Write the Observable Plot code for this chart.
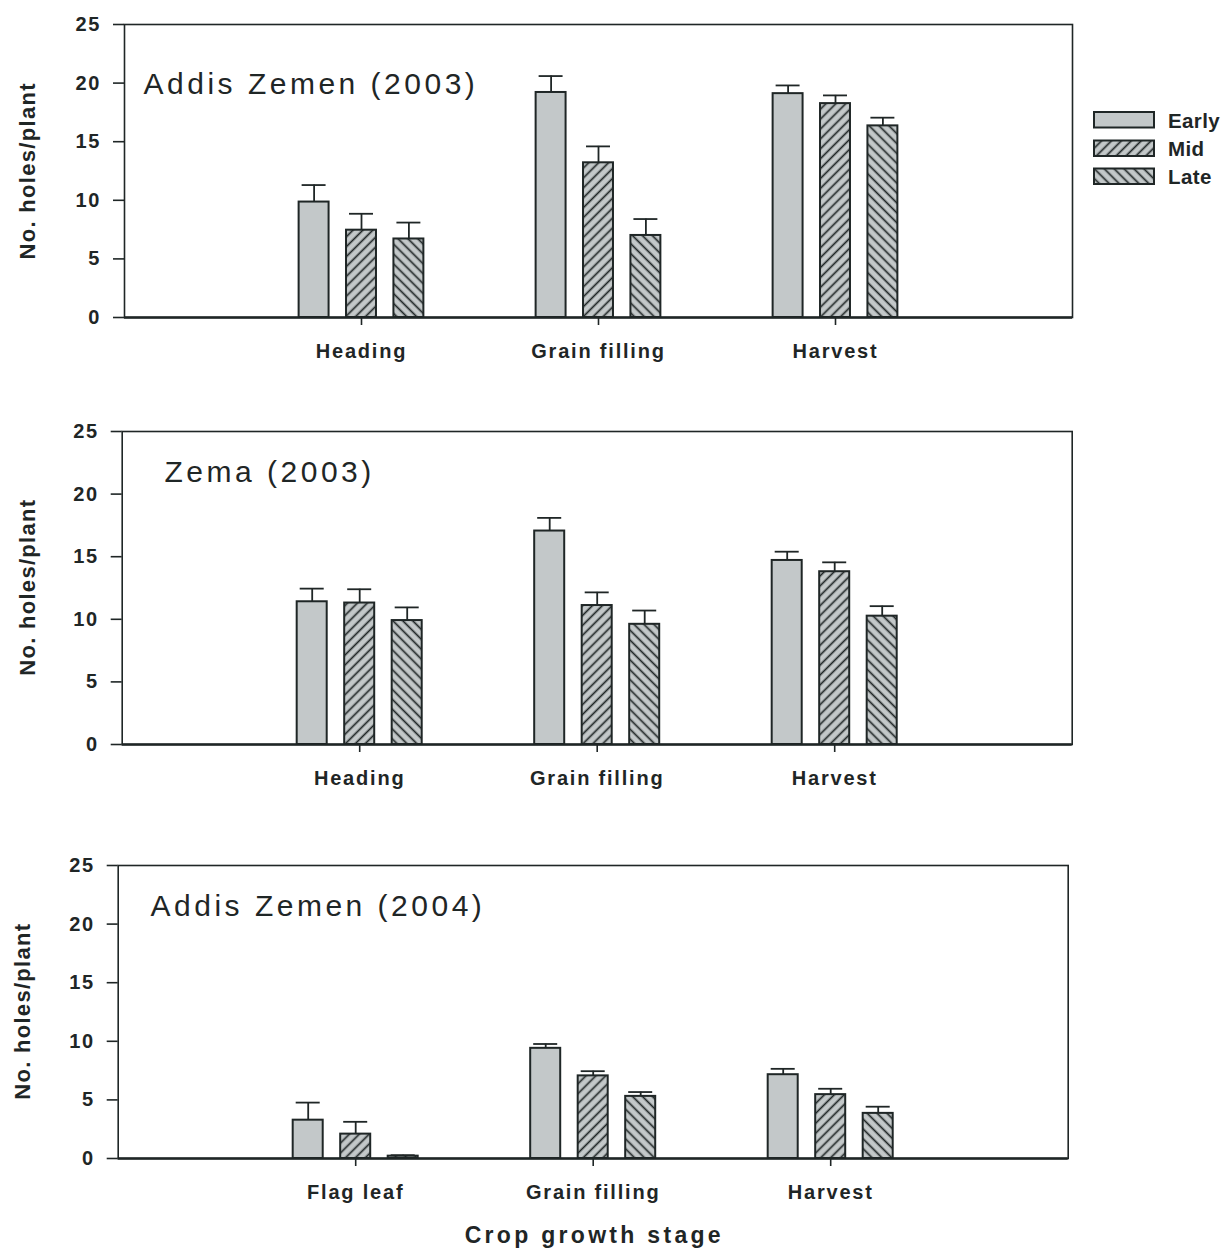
<!DOCTYPE html>
<html><head><meta charset="utf-8">
<script src="https://cdn.jsdelivr.net/npm/d3@7"></script>
<script src="https://cdn.jsdelivr.net/npm/@observablehq/plot@0.6"></script>
<style>
html,body{margin:0;padding:0;background:#fff;overflow:hidden;}
#wrap{position:relative;width:1227px;height:1254px;overflow:hidden;background:#fff;}
.panel{position:absolute;left:0;}
.panel svg{overflow:visible;}
.panel [aria-label="y-axis tick label"], .panel [aria-label="x-axis tick label"]{font-family:"Liberation Sans",Arial,sans-serif;font-size:20px;font-weight:bold;letter-spacing:1.8px;}
.panel [aria-label="y-axis tick"], .panel [aria-label="x-axis tick"]{stroke-width:1.6px;}
.panel g[aria-label="text"] text{letter-spacing:3.5px;}
</style>
</head><body>
<div id="wrap"></div>
<script>
// ---- data ----
const series = ["Early", "Mid", "Late"];
const stages1 = ["Heading", "Grain filling", "Harvest"];
const stages2 = ["Heading", "Grain filling", "Harvest"];
const stages3 = ["Flag leaf", "Grain filling", "Harvest"];
const titles = ["Addis Zemen (2003)", "Zema (2003)", "Addis Zemen (2004)"];
// means, ordered stage by stage: Early, Mid, Late
const means1 = [9.85, 7.45, 6.7, 19.2, 13.2, 7.0, 19.1, 18.25, 16.35];
const errs1  = [1.45, 1.4, 1.4, 1.4, 1.4, 1.4, 0.7, 0.7, 0.7];
const means2 = [11.4, 11.3, 9.9, 17.05, 11.1, 9.6, 14.7, 13.8, 10.25];
const errs2  = [1.05, 1.1, 1.05, 1.05, 1.05, 1.1, 0.7, 0.75, 0.8];
const means3 = [3.27, 2.08, 0.2, 9.4, 7.05, 5.3, 7.15, 5.45, 3.85];
const errs3  = [1.5, 1.05, 0.08, 0.37, 0.4, 0.37, 0.5, 0.5, 0.57];
const yTicks = [0, 5, 10, 15, 20, 25];
const yLabel = "No. holes/plant";
const xLabel = "Crop growth stage";

const INK = "#1f2626";
const GRAY = "#c3c8c9";
const FONT = "'Liberation Sans', Arial, sans-serif";

const wrap = d3.select("#wrap");

// ---- patterns ----
const defs = wrap.append("svg").attr("width", 0).attr("height", 0)
  .style("position", "absolute").append("defs");
function hatch(id, angle) {
  const s = 7;
  const p = defs.append("pattern").attr("id", id)
    .attr("patternUnits", "userSpaceOnUse")
    .attr("width", s).attr("height", s)
    .attr("patternTransform", `rotate(${angle})`);
  p.append("rect").attr("width", s).attr("height", s).attr("fill", GRAY);
  p.append("line").attr("x1", s / 2).attr("y1", 0).attr("x2", s / 2).attr("y2", s)
    .attr("stroke", INK).attr("stroke-width", 1.7);
}
hatch("hatch-mid", 45);
hatch("hatch-late", -45);
const fills = {Early: GRAY, Mid: "url(#hatch-mid)", Late: "url(#hatch-late)"};

function rows(stages, means, errs) {
  const out = [];
  stages.forEach((st, i) => series.forEach((se, j) => {
    out.push({key: st + "|" + se, stage: st, series: se, value: means[i * 3 + j], err: errs[i * 3 + j]});
  }));
  return out;
}
function xDomain(stages) {
  const d = [];
  stages.forEach((st, i) => {
    if (i > 0) d.push("gap" + i + "a", "gap" + i + "b");
    series.forEach(se => d.push(st + "|" + se));
  });
  return d;
}

function panel(cfg) {
  const data = rows(cfg.stages, cfg.means, cfg.errs);
  const marks = [];
  for (const se of series) {
    const sub = data.filter(d => d.series === se);
    marks.push(Plot.barY(sub, {x: "key", y: "value", fill: fills[se], stroke: INK, strokeWidth: 2}));
  }
  marks.push(
    Plot.ruleX(data, {x: "key", y1: "value", y2: d => d.value + d.err, stroke: INK, strokeWidth: 1.8}),
    Plot.tickY(data, {x: "key", y: d => d.value + d.err, stroke: INK, strokeWidth: 1.8, inset: 3}),
    Plot.frame({stroke: INK, strokeWidth: 1.6}),
    Plot.ruleY([0], {stroke: INK, strokeWidth: 2.4}),
    Plot.text([cfg.title], {text: d => d, frameAnchor: "top-left", dx: cfg.tdx, dy: cfg.tdy,
      textAnchor: "start", lineAnchor: "middle", fontSize: 30, fontFamily: FONT, fill: INK})
  );
  const svg = Plot.plot({
    width: 1227,
    height: 20 + cfg.h + 50,
    marginTop: 20, marginBottom: 50,
    marginLeft: cfg.ml, marginRight: cfg.mr,
    style: {fontFamily: FONT, color: INK, background: "transparent", overflow: "visible"},
    x: {domain: xDomain(cfg.stages), paddingInner: 0.368, paddingOuter: 3.684, align: 0.5, round: false,
        ticks: cfg.stages.map(s => s + "|Mid"), tickFormat: k => k.split("|")[0],
        tickSize: 8, tickPadding: 18, label: null},
    y: {domain: [0, 25], ticks: yTicks, tickSize: 11, tickPadding: 12.2, label: null},
    marks
  });
  wrap.append("div").attr("class", "panel").style("top", (cfg.top - 20) + "px").node().appendChild(svg);
}

const cfgs = [
  {stages: stages1, means: means1, errs: errs1, title: titles[0], top: 24.3, h: 293, ml: 124, mr: 155, tdx: 19, tdy: 60, lx: 35.4},
  {stages: stages2, means: means2, errs: errs2, title: titles[1], top: 430.7, h: 313, ml: 121.7, mr: 155.3, tdx: 42.3, tdy: 41.3, lx: 35.4},
  {stages: stages3, means: means3, errs: errs3, title: titles[2], top: 864.7, h: 293, ml: 117.7, mr: 159.3, tdx: 32.3, tdy: 40.6, lx: 30.4}
];
cfgs.forEach(panel);

// ---- legend, axis labels overlay ----
const ov = wrap.append("svg").attr("width", 1227).attr("height", 1254)
  .style("position", "absolute").style("left", 0).style("top", 0).style("pointer-events", "none");
const legTop = [112, 140.5, 168.5];
const legBase = [128.3, 156, 183.5];
series.forEach((se, i) => {
  ov.append("rect").attr("x", 1094).attr("y", legTop[i]).attr("width", 60).attr("height", 15.5)
    .attr("fill", fills[se]).attr("stroke", INK).attr("stroke-width", 2);
  ov.append("text").attr("x", 1168).attr("y", legBase[i]).text(se)
    .attr("font-family", FONT).attr("font-size", 20.5).attr("font-weight", "bold")
    .attr("letter-spacing", "0.4px").attr("fill", INK);
});
cfgs.forEach(c => {
  const cy = c.top + c.h / 2;
  ov.append("text").attr("transform", `translate(${c.lx},${cy}) rotate(-90)`)
    .attr("text-anchor", "middle").text(yLabel)
    .attr("font-family", FONT).attr("font-size", 22).attr("font-weight", "bold")
    .attr("letter-spacing", "1.3px").attr("fill", INK);
});
ov.append("text").attr("x", 594.3).attr("y", 1243.3).attr("text-anchor", "middle").text(xLabel)
  .attr("font-family", FONT).attr("font-size", 23).attr("font-weight", "bold")
  .attr("letter-spacing", "3.3px").attr("fill", INK);
</script>
</body></html>
